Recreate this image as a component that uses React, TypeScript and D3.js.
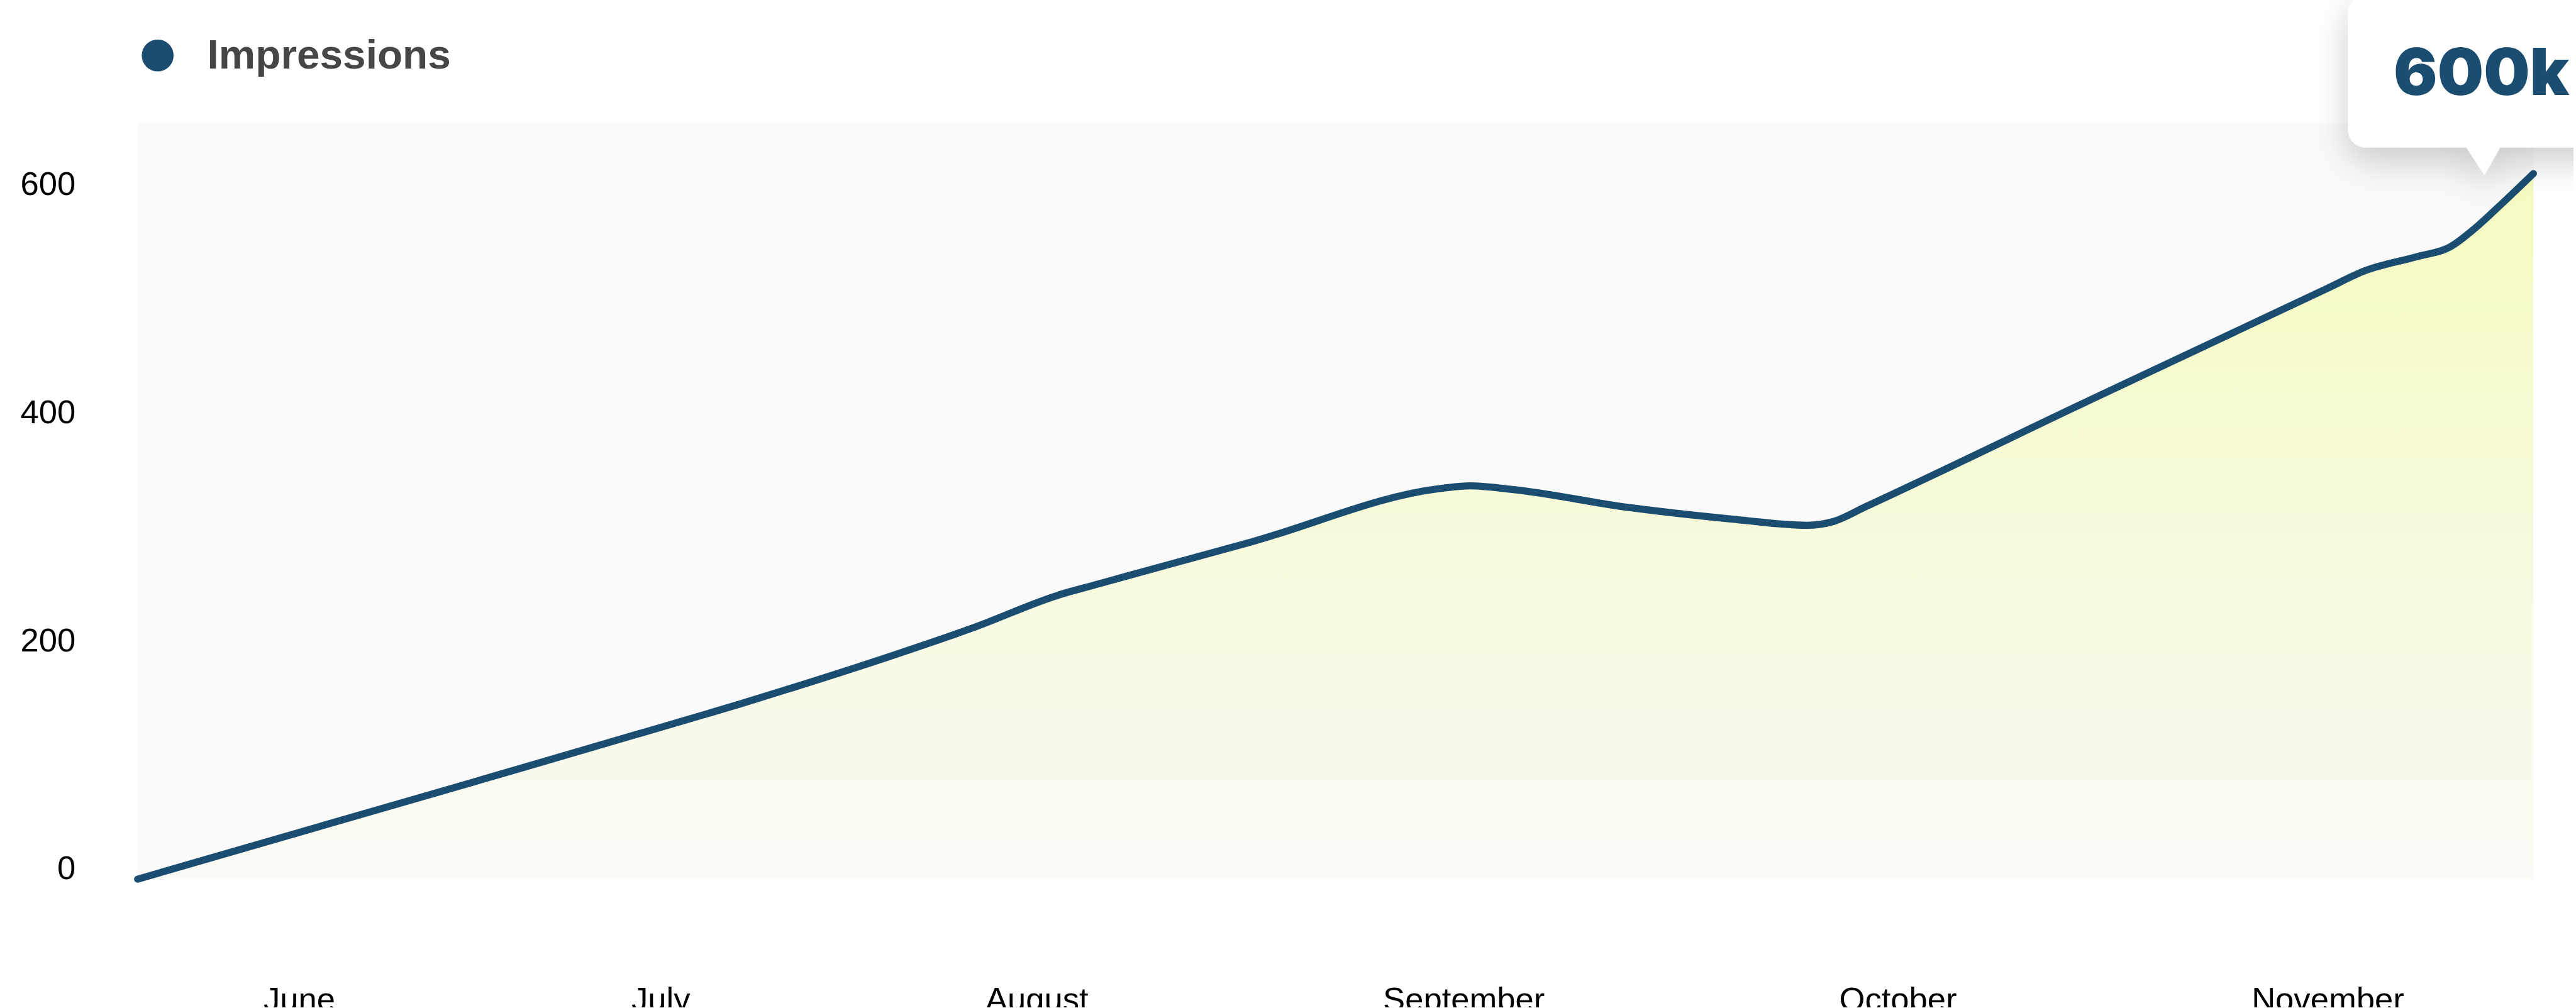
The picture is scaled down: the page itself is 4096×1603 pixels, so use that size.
import React, { useRef, useEffect } from 'react';
import * as d3 from 'd3';

// timeline position of each month label (0..100 along the plot)
const monthLabels = ['June', 'July', 'August', 'September', 'October', 'November'];
const monthPos = [6.75, 21.84, 37.54, 55.36, 73.48, 91.42];

// impressions (thousands), at timeline positions
const pointPos = [0, 13.98, 23.59, 25.19, 27.04, 31.48, 34.93, 38.4, 40.1, 46.51, 54.48, 55.61, 57.31, 62.26, 66.5, 69.68, 70.77, 72.15, 81.76, 91.37, 93.0, 95.12, 96.55, 97.56, 98.45, 100];
const impressions = [0, 85, 144, 154, 166, 196, 221, 249, 259, 296, 343, 345, 342, 326, 316, 310.5, 313.7, 327, 423, 518, 534, 546, 555, 571, 588, 619];

const yTicks = [0, 200, 400, 600];
const seriesName = 'Impressions';
const tooltipText = '600k';

const W = 4358;
const H = 1706;
const SCALE = 0.939;

const lineColor = '#1a4d70';

const App = () => {
    const svgRef = useRef<SVGSVGElement>(null);

    const drawChart = () => {
        const svg = d3.select(svgRef.current);
        svg.selectAll('*').remove();

        const margin = { top: 209, right: 68, bottom: 217, left: 233 };

        const x = d3.scaleLinear().domain([0, 100]).range([margin.left, W - margin.right]);
        const y = d3.scaleLinear().domain([0, 663]).range([H - margin.bottom, margin.top]);

        const data = pointPos.map((p, i) => ({ p, v: impressions[i] }));

        const defs = svg.append('defs');
        const grad = defs.append('linearGradient')
            .attr('id', 'areaFill')
            .attr('x1', 0).attr('x2', 0).attr('y1', 0).attr('y2', 1);
        grad.append('stop').attr('offset', '0%').attr('stop-color', '#f4fabf');
        grad.append('stop').attr('offset', '100%').attr('stop-color', '#fafaf6');

        const shadow = defs.append('filter')
            .attr('id', 'tipShadow')
            .attr('x', '-30%').attr('y', '-30%')
            .attr('width', '160%').attr('height', '190%');
        shadow.append('feDropShadow')
            .attr('dx', 0).attr('dy', 22)
            .attr('stdDeviation', 30)
            .attr('flood-color', '#000')
            .attr('flood-opacity', 0.2);

        // plot background
        svg.append('rect')
            .attr('x', x(0))
            .attr('y', margin.top)
            .attr('width', x(100) - x(0))
            .attr('height', y(0) - margin.top + 1)
            .attr('fill', '#fafafa');

        const area = d3.area<{ p: number; v: number }>()
            .x(d => x(d.p))
            .y0(y(0))
            .y1(d => y(d.v))
            .curve(d3.curveMonotoneX);

        svg.append('path')
            .datum(data)
            .attr('d', area)
            .attr('fill', 'url(#areaFill)');

        const line = d3.line<{ p: number; v: number }>()
            .x(d => x(d.p))
            .y(d => y(d.v))
            .curve(d3.curveMonotoneX);

        svg.append('path')
            .datum(data)
            .attr('d', line)
            .attr('fill', 'none')
            .attr('stroke', lineColor)
            .attr('stroke-width', 12)
            .attr('stroke-linecap', 'round')
            .attr('stroke-linejoin', 'round');

        // y axis labels
        svg.append('g')
            .selectAll('text')
            .data(yTicks)
            .enter()
            .append('text')
            .attr('x', 128)
            .attr('y', d => y(d))
            .attr('text-anchor', 'end')
            .style('font-family', '"Liberation Sans", Arial, sans-serif')
            .style('font-size', '56px')
            .style('fill', '#000')
            .text(d => d);

        // x axis labels
        svg.append('g')
            .selectAll('text')
            .data(monthLabels)
            .enter()
            .append('text')
            .attr('x', (d, i) => x(monthPos[i]))
            .attr('y', 1711)
            .attr('text-anchor', 'middle')
            .style('font-family', '"Liberation Sans", Arial, sans-serif')
            .style('font-size', '56px')
            .style('fill', '#000')
            .text(d => d);

        // legend
        const legend = svg.append('g');
        legend.append('circle')
            .attr('cx', 267)
            .attr('cy', 94)
            .attr('r', 27)
            .attr('fill', lineColor);
        legend.append('text')
            .attr('x', 351)
            .attr('y', 116)
            .style('font-family', '"Liberation Sans", Arial, sans-serif')
            .style('font-size', '70px')
            .style('font-weight', 'bold')
            .style('fill', '#464646')
            .text(seriesName);

        // tooltip on the last point
        const last = data[data.length - 1];
        const tipX = x(last.p) - 83;
        const tipY = y(last.v) + 3;
        const boxW = 462;
        const boxBottom = tipY - 47;
        const boxH = 258;
        const tip = svg.append('g').attr('filter', 'url(#tipShadow)');
        tip.append('rect')
            .attr('x', tipX - boxW / 2)
            .attr('y', boxBottom - boxH)
            .attr('width', boxW)
            .attr('height', boxH)
            .attr('rx', 30)
            .attr('fill', '#fff');
        tip.append('path')
            .attr('d', `M${tipX - 31},${boxBottom - 1} L${tipX + 27},${boxBottom - 1} L${tipX},${tipY} Z`)
            .attr('fill', '#fff');
        svg.append('text')
            .attr('x', tipX - 5)
            .attr('y', boxBottom - 89)
            .attr('text-anchor', 'middle')
            .style('font-family', 'Inter, "Noto Sans", sans-serif')
            .style('font-size', '110px')
            .style('font-weight', 900)
            .style('fill', lineColor)
            .text(tooltipText);
    };

    useEffect(() => {
        document.body.style.margin = '0';
        drawChart();
    }, []);

    return (
        <div style={{ position: 'absolute', left: 0, top: 0, width: W * SCALE, height: H * SCALE, background: '#fff', overflow: 'hidden' }}>
            <svg
                ref={svgRef}
                width={W * SCALE}
                height={H * SCALE}
                viewBox={`0 0 ${W} ${H}`}
                style={{ display: 'block' }}
            ></svg>
        </div>
    );
};

export default App;
